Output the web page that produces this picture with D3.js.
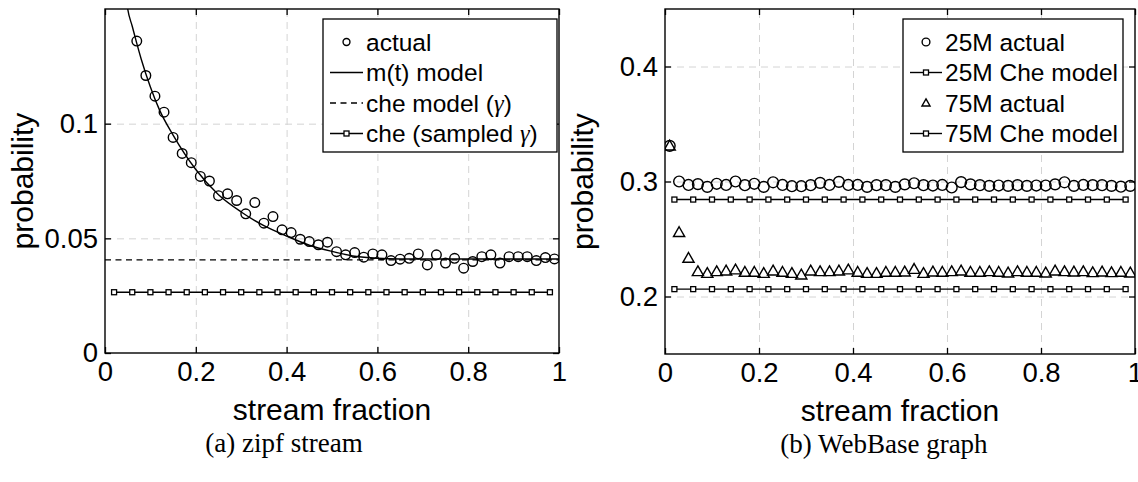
<!DOCTYPE html>
<html>
<head>
<meta charset="utf-8">
<script src="https://cdn.jsdelivr.net/npm/d3@7"></script>
<style>
  body { margin: 0; background: #fff; }
  svg { display: block; font-family: "Liberation Sans", Arial, Helvetica, sans-serif; }
  .grid line { stroke: #d4d4d4; stroke-dasharray: 7,5; }
  .grid path { display: none; }
</style>
</head>
<body>
<svg id="chart"></svg>
<script>
let w = 1138;
let h = 482;

// tick labels
let xTicks = [0, 0.2, 0.4, 0.6, 0.8, 1];
let zipfYTicks = [0, 0.05, 0.1];
let webYTicks = [0.2, 0.3, 0.4];

// (a) zipf stream
let zipfT = [0.07, 0.09, 0.11, 0.13, 0.15, 0.17, 0.19, 0.21, 0.23, 0.25, 0.27, 0.29, 0.31, 0.33, 0.35, 0.37,
  0.39, 0.41, 0.43, 0.45, 0.47, 0.49, 0.51, 0.53, 0.55, 0.57, 0.59, 0.61, 0.63, 0.65, 0.67, 0.69, 0.71, 0.73,
  0.75, 0.77, 0.79, 0.81, 0.83, 0.85, 0.87, 0.89, 0.91, 0.93, 0.95, 0.97, 0.99];
let zipfActual = [0.136, 0.121, 0.112, 0.105, 0.094, 0.087, 0.083, 0.077, 0.075, 0.0686, 0.0694, 0.0665, 0.0607,
  0.0656, 0.0566, 0.0595, 0.0537, 0.0525, 0.0496, 0.0486, 0.0472, 0.0483, 0.0442, 0.0428, 0.0438, 0.0418, 0.0432,
  0.0428, 0.0403, 0.0409, 0.0413, 0.0432, 0.0384, 0.0428, 0.0392, 0.0413, 0.0370, 0.0399, 0.0420, 0.0428, 0.0392,
  0.0420, 0.0420, 0.0420, 0.0403, 0.0416, 0.0410];
let modelT = [0.04, 0.05, 0.06, 0.07, 0.08, 0.1, 0.12, 0.15, 0.2, 0.25, 0.3, 0.35, 0.4, 0.45, 0.5, 0.55, 0.6,
  0.65, 0.7, 0.8, 0.9, 1.0];
let modelP = [0.168, 0.150, 0.1425, 0.135, 0.128, 0.116, 0.106, 0.095, 0.080, 0.069, 0.0615, 0.0555, 0.051,
  0.047, 0.0443, 0.0422, 0.0413, 0.041, 0.041, 0.041, 0.041, 0.041];
let cheT = [0, 1];
let cheP = [0.0406, 0.0406];
let sampledT = [0.02, 0.06, 0.10, 0.14, 0.18, 0.22, 0.26, 0.30, 0.34, 0.38, 0.42, 0.46, 0.50, 0.54, 0.58, 0.62,
  0.66, 0.70, 0.74, 0.78, 0.82, 0.86, 0.90, 0.94, 0.98];
let sampledP = [0.0265, 0.0265, 0.0265, 0.0265, 0.0265, 0.0265, 0.0265, 0.0265, 0.0265, 0.0265, 0.0265, 0.0265,
  0.0265, 0.0265, 0.0265, 0.0265, 0.0265, 0.0265, 0.0265, 0.0265, 0.0265, 0.0265, 0.0265, 0.0265, 0.0265];

// (b) WebBase graph
let webT = [0.01, 0.03, 0.05, 0.07, 0.09, 0.11, 0.13, 0.15, 0.17, 0.19, 0.21, 0.23, 0.25, 0.27, 0.29, 0.31, 0.33,
  0.35, 0.37, 0.39, 0.41, 0.43, 0.45, 0.47, 0.49, 0.51, 0.53, 0.55, 0.57, 0.59, 0.61, 0.63, 0.65, 0.67, 0.69,
  0.71, 0.73, 0.75, 0.77, 0.79, 0.81, 0.83, 0.85, 0.87, 0.89, 0.91, 0.93, 0.95, 0.97, 0.99];
let actual25 = [0.331, 0.300, 0.297, 0.2977, 0.2953, 0.298, 0.297, 0.300, 0.2968, 0.298, 0.2953, 0.2993, 0.297,
  0.2959, 0.2959, 0.2968, 0.2988, 0.297, 0.2997, 0.297, 0.297, 0.2953, 0.2968, 0.2968, 0.2953, 0.2975, 0.2985,
  0.2968, 0.2965, 0.297, 0.2948, 0.2995, 0.2975, 0.2968, 0.2962, 0.2965, 0.2962, 0.2968, 0.2962, 0.2965, 0.2965,
  0.2975, 0.2993, 0.2962, 0.297, 0.2968, 0.2968, 0.2962, 0.2955, 0.2962];
let actual75 = [0.331, 0.2558, 0.2334, 0.2218, 0.2203, 0.2218, 0.2224, 0.2233, 0.2212, 0.2212, 0.2203, 0.2224,
  0.2212, 0.2203, 0.2189, 0.2224, 0.2218, 0.2218, 0.2224, 0.2233, 0.2212, 0.2203, 0.2203, 0.2212, 0.2212, 0.2215,
  0.2238, 0.2203, 0.2215, 0.2212, 0.2218, 0.2224, 0.2212, 0.2212, 0.2218, 0.2212, 0.2206, 0.2218, 0.2212, 0.2212,
  0.2206, 0.2224, 0.2218, 0.2215, 0.2218, 0.2209, 0.2215, 0.2209, 0.2212, 0.2206];
let cheWebT = [0.02, 0.06, 0.10, 0.14, 0.18, 0.22, 0.26, 0.30, 0.34, 0.38, 0.42, 0.46, 0.50, 0.54, 0.58, 0.62,
  0.66, 0.70, 0.74, 0.78, 0.82, 0.86, 0.90, 0.94, 0.98];
let che25 = [0.2843, 0.2843, 0.2843, 0.2843, 0.2843, 0.2843, 0.2843, 0.2843, 0.2843, 0.2843, 0.2843, 0.2843,
  0.2843, 0.2843, 0.2843, 0.2843, 0.2843, 0.2843, 0.2843, 0.2843, 0.2843, 0.2843, 0.2843, 0.2843, 0.2843];
let che75 = [0.2064, 0.2064, 0.2064, 0.2064, 0.2064, 0.2064, 0.2064, 0.2064, 0.2064, 0.2064, 0.2064, 0.2064,
  0.2064, 0.2064, 0.2064, 0.2064, 0.2064, 0.2064, 0.2064, 0.2064, 0.2064, 0.2064, 0.2064, 0.2064, 0.2064];

let zip = (xs, ys) => xs.map((x, i) => ({x: x, y: ys[i]}));

let chart = d3.select("#chart")
  .attr("width", w)
  .attr("height", h);

chart.append("rect").attr("width", w).attr("height", h).attr("fill", "#fff");

function drawPanel(cfg) {
  let xScale = d3.scaleLinear().domain([0, 1]).range([cfg.left, cfg.right]);
  let yScale = d3.scaleLinear().domain(cfg.yDomain).range([cfg.bottom, cfg.top]);
  let pw = cfg.right - cfg.left;
  let ph = cfg.bottom - cfg.top;

  let g = chart.append("g");

  // grid
  g.append("g").attr("class", "grid")
    .attr("transform", `translate(0, ${cfg.bottom})`)
    .call(d3.axisBottom(xScale).tickValues(xTicks.slice(1, -1)).tickSize(-ph).tickFormat(""));
  g.append("g").attr("class", "grid")
    .attr("transform", `translate(${cfg.left}, 0)`)
    .call(d3.axisLeft(yScale).tickValues(cfg.yTicks.filter(d => d > cfg.yDomain[0])).tickSize(-pw).tickFormat(""));

  let clipId = "clip" + cfg.id;
  chart.append("clipPath").attr("id", clipId)
    .append("rect").attr("x", cfg.left).attr("y", cfg.top).attr("width", pw).attr("height", ph);

  let plot = g.append("g").attr("clip-path", `url(#${clipId})`);
  let line = d3.line().x(d => xScale(d.x)).y(d => yScale(d.y));

  cfg.series.forEach(s => {
    let pts = zip(s.x, s.y);
    if (s.line) {
      plot.append("path")
        .datum(pts)
        .attr("fill", "none")
        .attr("stroke", "#000")
        .attr("stroke-width", 1.4)
        .attr("stroke-dasharray", s.dash || null)
        .attr("d", s.smooth ? line.curve(d3.curveMonotoneX)(pts) : line.curve(d3.curveLinear)(pts));
    }
    if (s.marker) {
      drawMarkers(plot, pts.map(d => [xScale(d.x), yScale(d.y)]), s.marker, s.size);
    }
  });

  // axes, ticks point inward on all four sides
  let fontSize = 27.5;
  let yAx = g.append("g").attr("transform", `translate(${cfg.left}, 0)`)
    .call(d3.axisLeft(yScale).tickValues(cfg.yTicks).tickSizeInner(-6).tickSizeOuter(0).tickPadding(7).tickFormat(d => d));
  let yAxR = g.append("g").attr("transform", `translate(${cfg.right}, 0)`)
    .call(d3.axisRight(yScale).tickValues(cfg.yTicks).tickSizeInner(-6).tickSizeOuter(0).tickFormat(""));
  let xAx = g.append("g").attr("transform", `translate(0, ${cfg.bottom})`)
    .call(d3.axisBottom(xScale).tickValues(xTicks).tickSizeInner(-6).tickSizeOuter(0).tickPadding(8).tickFormat(d => d));
  let xAxT = g.append("g").attr("transform", `translate(0, ${cfg.top})`)
    .call(d3.axisTop(xScale).tickValues(xTicks).tickSizeInner(-6).tickSizeOuter(0).tickFormat(""));
  [yAx, yAxR, xAx, xAxT].forEach(a => {
    a.selectAll("path").remove();
    a.selectAll("line").attr("stroke", "#000").attr("stroke-width", 1.3);
    a.selectAll("text").attr("font-size", fontSize).attr("fill", "#000")
      .attr("font-family", "Liberation Sans, Arial, sans-serif");
  });
  xAx.selectAll("text").attr("dy", "0.71em");

  g.append("rect")
    .attr("x", cfg.left).attr("y", cfg.top).attr("width", pw).attr("height", ph)
    .attr("fill", "none").attr("stroke", "#000").attr("stroke-width", 1.4);

  // axis labels
  g.append("text")
    .attr("x", (cfg.left + cfg.right) / 2).attr("y", cfg.bottom + 67)
    .attr("text-anchor", "middle").attr("font-size", 30)
    .text("stream fraction");
  g.append("text")
    .attr("transform", `translate(${cfg.yLabelX}, ${(cfg.top + cfg.bottom) / 2}) rotate(-90)`)
    .attr("text-anchor", "middle").attr("font-size", 30)
    .text("probability");

  // caption
  g.append("text")
    .attr("x", cfg.captionX).attr("y", cfg.bottom + 99)
    .attr("text-anchor", "middle").attr("font-size", 27)
    .attr("font-family", "Liberation Serif, Times New Roman, serif")
    .text(cfg.caption);

  // legend
  let lg = g.append("g");
  lg.append("rect")
    .attr("x", cfg.legend.x).attr("y", cfg.legend.y)
    .attr("width", cfg.legend.w).attr("height", cfg.legend.h)
    .attr("fill", "#fff").attr("stroke", "#000").attr("stroke-width", 1.3);
  cfg.legendOrder.forEach((k, i) => {
    let s = cfg.series[k];
    let yy = cfg.legend.y + 23 + i * 30.5;
    let x1 = cfg.legend.x + cfg.legend.symX1;
    let x2 = cfg.legend.x + cfg.legend.symX2;
    if (s.line) {
      lg.append("line").attr("x1", x1).attr("x2", x2).attr("y1", yy).attr("y2", yy)
        .attr("stroke", "#000").attr("stroke-width", 1.4)
        .attr("stroke-dasharray", s.dash || null);
    }
    if (s.marker) {
      drawMarkers(lg, [[(x1 + x2) / 2, yy]], s.marker, s.marker == "square" ? s.size : s.size * 0.72);
    }
    let t = lg.append("text")
      .attr("x", x2 + 3).attr("y", yy).attr("dy", "0.36em")
      .attr("font-size", 24.5);
    s.label.forEach(part => {
      let sp = t.append("tspan").text(part.t);
      if (part.it) sp.attr("font-family", "Liberation Serif, serif").attr("font-style", "italic");
    });
  });
}

function drawMarkers(sel, pts, kind, size) {
  if (kind == "circle") {
    sel.selectAll(null).data(pts).join("circle")
      .attr("cx", d => d[0]).attr("cy", d => d[1]).attr("r", size)
      .attr("fill", "none").attr("stroke", "#000").attr("stroke-width", 1.4);
  } else if (kind == "square") {
    sel.selectAll(null).data(pts).join("rect")
      .attr("x", d => d[0] - size / 2).attr("y", d => d[1] - size / 2)
      .attr("width", size).attr("height", size)
      .attr("fill", "#fff").attr("stroke", "#000").attr("stroke-width", 1.3);
  } else if (kind == "triangle") {
    sel.selectAll(null).data(pts).join("path")
      .attr("d", d => `M${d[0]},${d[1] - size} L${d[0] + size},${d[1] + size * 0.75} L${d[0] - size},${d[1] + size * 0.75} Z`)
      .attr("fill", "none").attr("stroke", "#000").attr("stroke-width", 1.4);
  }
}

drawPanel({
  id: "a",
  left: 105, right: 559, top: 9, bottom: 353,
  yDomain: [0, 0.15], yTicks: zipfYTicks,
  yLabelX: 33, captionX: 284,
  caption: "(a) zipf stream",
  legend: {x: 323, y: 19, w: 234, h: 133, symX1: 7, symX2: 40},
  series: [
    {x: sampledT, y: sampledP, line: true, marker: "square", size: 5,
      label: [{t: "che (sampled "}, {t: "γ", it: true}, {t: ")"}]},
    {x: cheT, y: cheP, line: true, dash: "6,4.5",
      label: [{t: "che model ("}, {t: "γ", it: true}, {t: ")"}]},
    {x: modelT, y: modelP, line: true, smooth: true, label: [{t: "m(t) model"}]},
    {x: zipfT, y: zipfActual, marker: "circle", size: 4.8, label: [{t: "actual"}]}
  ],
  legendOrder: [3, 2, 1, 0]
});

drawPanel({
  id: "b",
  left: 665, right: 1135, top: 9, bottom: 354,
  yDomain: [0.15, 0.45], yTicks: webYTicks,
  yLabelX: 593, captionX: 884,
  caption: "(b) WebBase graph",
  legend: {x: 903, y: 19, w: 220, h: 133, symX1: 7, symX2: 39},
  series: [
    {x: webT, y: actual25, marker: "circle", size: 5.4, label: [{t: "25M actual"}]},
    {x: cheWebT, y: che25, line: true, marker: "square", size: 5, label: [{t: "25M Che model"}]},
    {x: webT, y: actual75, marker: "triangle", size: 5.6, label: [{t: "75M actual"}]},
    {x: cheWebT, y: che75, line: true, marker: "square", size: 5, label: [{t: "75M Che model"}]}
  ],
  legendOrder: [0, 1, 2, 3]
});
</script>
</body>
</html>
